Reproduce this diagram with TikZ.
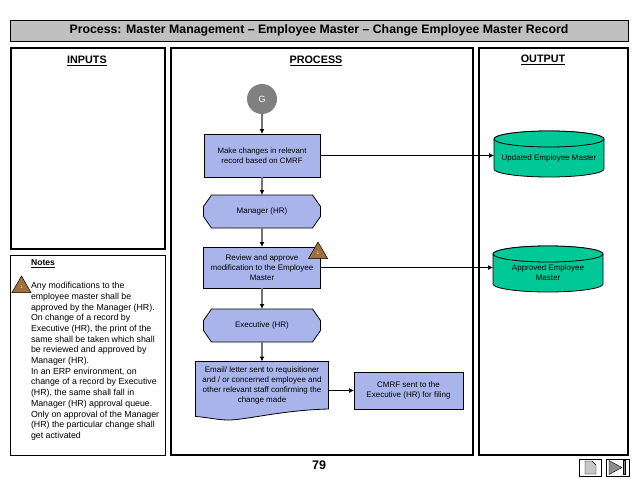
\documentclass[tikz,border=0pt]{standalone}
\usepackage{fontspec}
\setmainfont{Liberation Sans}
\usetikzlibrary{arrows.meta,shapes.geometric,positioning}
\definecolor{boxblue}{HTML}{A9B5EA}
\definecolor{cylgreen}{HTML}{00C897}
\definecolor{barGrey}{HTML}{C0C0C0}
\definecolor{warnbrown}{HTML}{A0703C}
\definecolor{gGrey}{HTML}{808080}
\tikzset{
  x=1pt,y=-1pt,
  every node/.style={font=\fontsize{8}{10}\selectfont,inner sep=0pt,outer sep=0pt},
  frame/.style={draw=black,line width=2pt,fill=white},
  thinframe/.style={draw=black,line width=1pt,fill=white},
  heading/.style={font=\fontsize{10.8}{12}\bfseries\selectfont},
  procbox/.style={draw=black,line width=.8pt,fill=boxblue,align=center,minimum width=#1},
  outline/.style={draw=black,line width=.8pt,fill=boxblue},
  dboutline/.style={draw=black,line width=.8pt,fill=cylgreen},
  vflow/.style={draw=black!55,line width=1.2pt,-{Latex[length=5pt,width=5pt,black]}},
  hflow/.style={draw=black,line width=.7pt,-{Latex[length=5pt,width=5pt]}},
  warn/.style={regular polygon,regular polygon sides=3,fill=warnbrown,draw=black,line width=.5pt,minimum size=22pt,text=white,font=\fontsize{4}{4}\selectfont},
}
% invisible anchor node, outline, then its text
\newcommand{\hexnode}[4]{%
  \node[minimum width=117pt,minimum height=33pt] (#1) at (#2,#3) {};
  \draw[outline] ([xshift=8pt]#1.north west) -- ([xshift=-8pt]#1.north east)
    -- ([yshift=-11.5pt]#1.north east) -- ([yshift=11.5pt]#1.south east)
    -- ([xshift=-8pt]#1.south east) -- ([xshift=8pt]#1.south west)
    -- ([yshift=11.5pt]#1.south west) -- ([yshift=-11.5pt]#1.north west) -- cycle;
  \node (#1text) at (#1.center) {#4};
}
\newcommand{\dbnode}[4]{%
  \node[minimum width=110pt,minimum height=46pt] (#1) at (#2,#3) {};
  \draw[dboutline] ([yshift=-8pt]#1.north west) -- ([yshift=8pt]#1.south west)
    arc[start angle=180,end angle=360,x radius=55pt,y radius=8pt]
    -- ([yshift=-8pt]#1.north east)
    arc[start angle=0,end angle=180,x radius=55pt,y radius=8pt] -- cycle;
  \draw[dboutline] ([yshift=-8pt]#1.north) ellipse[x radius=55pt,y radius=8pt];
  \node[align=center] (#1text) at ([yshift=-4pt]#1.center) {#4};
}
\begin{document}
\begin{tikzpicture}
\useasboundingbox (0,0) rectangle (638,479);
\fill[white] (0,0) rectangle (638,479);
% title bar
\node[draw=black,line width=.8pt,fill=barGrey,minimum width=618pt,minimum height=21pt,font=\fontsize{12.3}{14}\bfseries\selectfont] (title) at (319,30.5) {Process: Master Management – Employee Master – Change Employee Master Record};
% frames
\draw[frame] (10.5,47.5) rectangle (165,249);
\draw[frame] (170.5,47.5) rectangle (473,455);
\draw[frame] (478.5,47.5) rectangle (628,455);
\draw[thinframe] (10.5,255.5) rectangle (165,455);
% headings
\node[heading] (inputs) at (87,61) {\underline{INPUTS}};
\node[heading] (process) at (316,61) {\underline{PROCESS}};
\node[heading] (output) at (543,60) {\underline{OUTPUT}};
% notes
\node[font=\fontsize{8.6}{10}\bfseries\selectfont] (noteshead) at (43,264) {\underline{Notes}};
\node[anchor=north west,align=left,font=\fontsize{8.8}{10.7}\selectfont] (notes) at (31,282.3) {Any modifications to the\\employee master shall be\\approved by the Manager (HR).\\On change of a record by\\Executive (HR), the print of the\\same shall be taken which shall\\be reviewed and approved by\\Manager (HR).\\In an ERP environment, on\\change of a record by Executive\\(HR), the same shall fall in\\Manager (HR) approval queue.\\Only on approval of the Manager\\(HR) the particular change shall\\get activated};
\node[warn] (warnA) at (21.5,287) {1};
% flow
\node[circle,fill=gGrey,minimum size=30pt,text=white,font=\fontsize{9}{10}\selectfont] (g) at (262,99) {G};
\node[procbox=116pt,minimum height=43pt,font=\fontsize{7.8}{10}\selectfont] (make) at (262,155.5) {Make changes in relevant\\record based on CMRF};
\hexnode{mgr}{262}{211.5}{Manager (HR)}
\node[procbox=117pt,minimum height=41pt] (review) at (262,267.5) {Review and approve\\modification to the Employee\\Master};
\hexnode{exec}{262}{325.5}{Executive (HR)}
\node[minimum width=133pt,minimum height=47.5pt] (doc) at (262,385.25) {};
\draw[outline] (doc.north west) -- (doc.north east) -- (doc.south east)
  .. controls ([xshift=-45pt,yshift=-1pt]doc.south east) and ([xshift=50pt,yshift=-11pt]doc.south west) .. ([xshift=33pt,yshift=-11pt]doc.south west)
  .. controls ([xshift=22pt,yshift=-11pt]doc.south west) and ([xshift=10pt,yshift=-8pt]doc.south west) .. ([yshift=-7.5pt]doc.south west) -- cycle;
\node[align=center] (doctext) at (doc.center) {Email/ letter sent to requisitioner\\and / or concerned employee and\\other relevant staff confirming the\\change made};
\node[procbox=109pt,minimum height=37pt] (cmrf) at (408.5,390.5) {CMRF sent to the\\Executive (HR) for filing};
\dbnode{upd}{549}{154}{Updated Employee Master}
\dbnode{appr}{548}{269}{Approved Employee\\Master}
\node[warn] (warnB) at (318,253) {1};
\draw[vflow] (g) -- (make);
\draw[vflow] (make) -- (mgr);
\draw[vflow] (mgr) -- (review);
\draw[vflow] (review) -- (exec);
\draw[vflow] (exec) -- (doc);
\draw[hflow] (doc.east |- cmrf.west) -- (cmrf.west);
\draw[hflow] (make.east) -- (make.east -| upd.west);
\draw[hflow] (review.east) -- (review.east -| appr.west);
% page
\node[font=\fontsize{12.5}{14}\bfseries\selectfont] (page) at (319,465) {79};
% buttons
\node[draw=black,line width=.8pt,minimum width=22pt,minimum height=17pt] (btnA) at (590,467.5) {};
\node[draw=black,line width=.8pt,minimum width=23pt,minimum height=17pt] (btnB) at (617.5,467.5) {};
\draw[fill=black!22,draw=black,line width=.4pt] (585,461) -- (592,461) -- (596,465) -- (596,474) -- (585,474) -- cycle;
\draw[fill=black!45,draw=black,line width=.4pt] (609,460.5) -- (622,467.5) -- (609,474.5) -- cycle;
\draw[fill=black!45,draw=black,line width=.4pt] (623,460.5) rectangle (625.5,474.5);
\end{tikzpicture}
\end{document}
